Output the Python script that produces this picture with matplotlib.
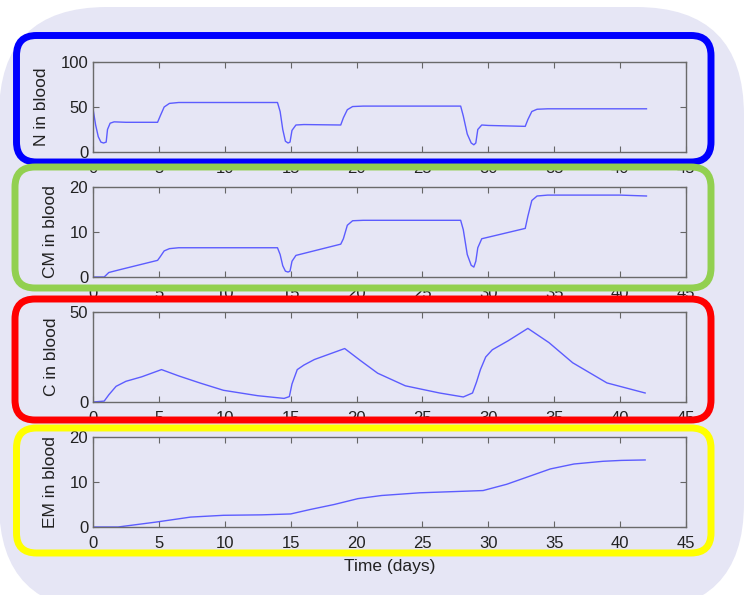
import numpy as np
import matplotlib
matplotlib.use('Agg')
import matplotlib.pyplot as plt
from matplotlib.patches import FancyBboxPatch
from matplotlib.transforms import Affine2D

# values
t_n = [0, 0.2, 0.4, 0.6, 0.8, 1.0, 1.1, 1.3, 1.6, 2.5, 4.9, 5.1, 5.4, 5.8, 6.5,
       14.0, 14.2, 14.4, 14.6, 14.8, 14.95, 15.1, 15.4, 16, 18.8, 19.0, 19.3,
       19.7, 20.5, 27.9, 28.1, 28.4, 28.7, 28.9, 29.05, 29.2, 29.5, 30, 32.8,
       33.0, 33.3, 33.7, 34.5, 42]
n_blood = [48, 30, 17, 11, 10, 11, 25, 32, 33.5, 33, 33, 40, 50, 54, 55,
           55, 45, 25, 12, 10, 11, 24, 30, 30.5, 30, 38, 47,
           50.5, 51, 51, 40, 20, 10, 8, 10, 25, 30, 29.5, 28.5,
           36, 45, 47.5, 48, 48]

t_cm = [0, 0.85, 1.2, 2, 4.9, 5.1, 5.4, 5.8, 6.5, 14.0, 14.2, 14.4, 14.6,
        14.8, 14.95, 15.1, 15.4, 18.8, 19.0, 19.3, 19.7, 20.5, 27.9, 28.1,
        28.4, 28.7, 28.9, 29.05, 29.2, 29.5, 32.8, 33.0, 33.3, 33.7, 34.5,
        40, 42]
cm_blood = [0, 0, 1, 1.6, 3.7, 4.5, 5.8, 6.3, 6.5, 6.5, 5, 2.5, 1.3,
            1.1, 1.3, 3.5, 4.8, 7.3, 8.5, 11.5, 12.5, 12.6, 12.6, 10.5,
            5, 2.6, 2.2, 3.5, 6.5, 8.5, 10.8, 13.5, 17, 18, 18.2,
            18.2, 18.0]

t_c = [0, 0.85, 1.2, 1.75, 2.5, 3.7, 5.2, 6.5, 8.1, 9.9, 12.5, 14.5, 14.9,
       15.1, 15.5, 16.0, 16.8, 19.1, 20.3, 21.6, 23.7, 26.3, 28.1, 28.8,
       29.1, 29.4, 29.8, 30.3, 31.5, 33.0, 34.6, 36.4, 39.0, 41.9]
c_blood = [0, 0.5, 4, 8.7, 11.5, 14, 18, 14.5, 10.6, 6.5, 3.5, 2.0, 3.0,
           10, 18, 20.5, 23.6, 29.7, 23, 16, 9, 5, 2.8, 5,
           11, 18, 25, 29, 34, 40.9, 33, 21.8, 10.6, 5.0]

t_em = [0, 1.9, 4.8, 7.4, 9.9, 12.8, 15, 16.5, 18.3, 20.1, 21.9, 24.8, 27.7,
        29.6, 31.4, 34.7, 36.5, 38.7, 40.1, 41.9]
em_blood = [0, 0, 1.1, 2.2, 2.6, 2.7, 2.9, 3.9, 5.0, 6.3, 7.0, 7.6, 7.9,
            8.1, 9.5, 12.9, 14.0, 14.6, 14.8, 14.9]

panels = [
    (t_n, n_blood, 'N in blood', [0, 100], [0, 50, 100]),
    (t_cm, cm_blood, 'CM in blood', [0, 20], [0, 10, 20]),
    (t_c, c_blood, 'C in blood', [0, 50], [0, 50]),
    (t_em, em_blood, 'EM in blood', [0, 20], [0, 10, 20]),
]

plt.rcParams['font.family'] = ['Liberation Sans', 'DejaVu Sans']

W, H = 749, 595
fig = plt.figure(figsize=(W / 100, H / 100), dpi=100)
fig.patch.set_facecolor('white')

# pixel coords of the picture (origin top-left) -> figure
pix = Affine2D().scale(1 / W, -1 / H).translate(0, 1) + fig.transFigure

lav = '#e6e6f5'
bg = FancyBboxPatch((-1, 7), 745, 604, boxstyle='round,pad=0,rounding_size=108',
                    transform=pix, facecolor=lav, edgecolor='none', zorder=-10)
fig.add_artist(bg)

left, right = 93, 686
tops = [62, 187, 312, 437]
for i, (t, y, lab, ylim, yt) in enumerate(panels):
    top = tops[i]
    ax = fig.add_axes([left / W, 1 - (top + 90) / H, (right - left) / W, 90 / H])
    ax.set_facecolor('none')
    ax.plot(t, y, color='#5c5cff', lw=1.0)
    ax.set_xlim(0, 45)
    ax.set_ylim(ylim)
    ax.set_xticks(np.arange(0, 46, 5))
    ax.set_yticks(yt)
    ax.set_ylabel(lab, fontsize=12.5, labelpad=8, color='#222222')
    ax.tick_params(direction='in', length=4, top=True, right=True,
                   labelsize=12, colors='#666666', labelcolor='#222222')
    ax.tick_params(axis='x', pad=6.5)
    for s in ax.spines.values():
        s.set_color('#6a6a6a')
        s.set_linewidth(1.0)
    if i == 3:
        ax.set_xlabel('Time (days)', fontsize=12.5, labelpad=6, color='#222222')

# coloured rounded frames round each panel
boxes = [
    ('#0000ff', 16.5, 35.5, 711, 162),
    ('#92d050', 15, 167, 711, 288),
    ('#ff0000', 15, 299, 711, 420),
    ('#ffff00', 16.5, 428, 711, 553),
]
for k, (col, x0, y0, x1, y1) in enumerate(boxes):
    fr = FancyBboxPatch((x0, y0), x1 - x0, y1 - y0,
                        boxstyle='round,pad=0,rounding_size=20',
                        transform=pix, facecolor='none', edgecolor=col,
                        linewidth=5.0, zorder=10 + k)
    fig.add_artist(fr)

plt.savefig('out.png', dpi=100)
